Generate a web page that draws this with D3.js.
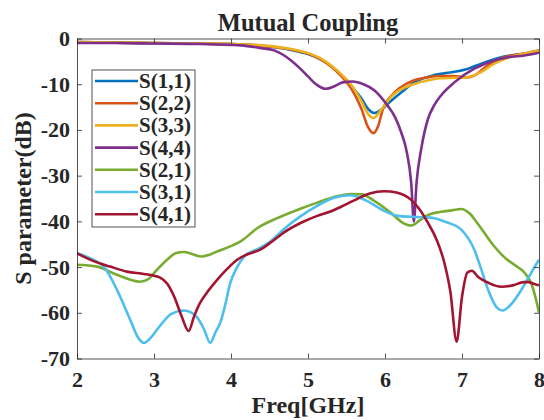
<!DOCTYPE html>
<html>
<head>
<meta charset="utf-8">
<script src="https://cdn.jsdelivr.net/npm/d3@7"></script>
<style>
  body { margin: 0; background: #fff; }
  svg text { font-family: "Liberation Serif", "Times New Roman", serif; font-weight: bold; fill: #262626; }
</style>
</head>
<body>
<div id="chart"></div>
<script>
// data: [freq GHz, dB]
const s11 = [[2,-0.8],[2.5,-0.9],[3,-1.0],[3.5,-1.1],[4,-1.2],[4.4,-1.6],[4.78,-2.5],[5.0,-3.4],[5.17,-4.6],[5.3,-6.0],[5.43,-8.0],[5.56,-10.4],[5.69,-13],[5.78,-15.4],[5.86,-16.3],[5.95,-15.6],[6.04,-14.2],[6.21,-11.8],[6.38,-9.6],[6.64,-8.0],[6.82,-7.5],[7.08,-6.6],[7.25,-5.5],[7.51,-4.1],[7.81,-3.3],[8,-2.8]];
const s22 = [[2,-0.8],[2.5,-0.9],[3,-1.0],[3.5,-1.1],[4,-1.2],[4.4,-1.6],[4.78,-2.4],[5.0,-3.3],[5.17,-4.6],[5.3,-6.1],[5.43,-8.2],[5.56,-10.9],[5.69,-15.2],[5.78,-19.4],[5.85,-20.7],[5.91,-19.2],[5.97,-15.6],[6.1,-12.2],[6.21,-10.6],[6.37,-9.2],[6.55,-8.5],[6.72,-8.2],[6.9,-8.2],[7.07,-8.5],[7.16,-8.1],[7.33,-5.9],[7.51,-4.3],[7.81,-3.3],[8,-2.6]];
const s33 = [[2,-0.8],[2.5,-0.9],[3,-1.0],[3.5,-1.1],[4,-1.2],[4.4,-1.5],[4.78,-2.3],[5.0,-3.2],[5.17,-4.4],[5.3,-5.9],[5.43,-7.8],[5.56,-10.1],[5.69,-13.6],[5.78,-16.5],[5.85,-17.4],[5.95,-15.6],[6.1,-12.4],[6.21,-11.1],[6.37,-10.0],[6.55,-9.2],[6.72,-8.7],[6.9,-8.6],[7.07,-8.5],[7.24,-7.4],[7.42,-5.5],[7.6,-4.2],[7.81,-3.3],[8,-2.7]];
const s44 = [[2,-1.0],[2.5,-1.0],[3,-1.1],[3.6,-1.2],[4.0,-1.4],[4.13,-1.5],[4.39,-2.1],[4.56,-2.6],[4.67,-3.5],[4.78,-4.8],[4.9,-6.6],[5.0,-8.3],[5.12,-10.2],[5.23,-11.0],[5.35,-10.4],[5.45,-9.6],[5.58,-9.4],[5.72,-10.0],[5.86,-11.3],[6.03,-14.6],[6.13,-17.2],[6.21,-20.5],[6.28,-24.6],[6.34,-31.5],[6.375,-40.0],[6.41,-31.5],[6.47,-24.2],[6.56,-17.5],[6.64,-14.6],[6.73,-12.4],[6.9,-9.6],[7.16,-6.6],[7.42,-4.8],[7.6,-4.1],[7.81,-3.7],[8,-3.1]];
const s21 = [[2,-49.5],[2.26,-49.9],[2.52,-51.7],[2.82,-53.2],[2.93,-52.6],[3.0,-51.3],[3.17,-48.4],[3.28,-47.0],[3.39,-46.7],[3.5,-47.2],[3.62,-47.7],[3.72,-47.3],[3.82,-46.6],[4.04,-45.1],[4.14,-44.2],[4.34,-41.5],[4.6,-39.3],[4.91,-37.2],[5.12,-35.9],[5.35,-34.6],[5.56,-34.0],[5.7,-34.1],[5.85,-35.4],[6.08,-38.2],[6.22,-40.2],[6.34,-40.9],[6.45,-39.8],[6.56,-38.6],[6.73,-37.9],[6.87,-37.6],[6.99,-37.3],[7.1,-38.3],[7.2,-40.4],[7.42,-45.5],[7.58,-48.3],[7.68,-49.5],[7.81,-51.2],[7.9,-53.6],[7.96,-57.0],[8,-60.0]];
const s31 = [[2,-47.0],[2.2,-48.3],[2.35,-49.9],[2.52,-55.0],[2.69,-61.5],[2.8,-65.6],[2.87,-66.6],[2.95,-65.6],[3.08,-62.8],[3.22,-60.3],[3.39,-59.5],[3.48,-59.9],[3.56,-61.0],[3.65,-63.6],[3.73,-66.6],[3.8,-64.2],[3.86,-62.2],[3.92,-58.6],[3.99,-53.5],[4.08,-50.0],[4.17,-47.7],[4.35,-46.0],[4.51,-44.4],[4.7,-41.5],[4.91,-38.8],[5.12,-36.6],[5.35,-34.8],[5.56,-34.3],[5.75,-35.4],[5.99,-37.7],[6.17,-38.8],[6.34,-39.0],[6.5,-39.1],[6.64,-39.3],[6.8,-40.2],[6.99,-41.8],[7.16,-46.2],[7.25,-50.5],[7.34,-55.0],[7.45,-58.8],[7.53,-59.5],[7.63,-58.3],[7.77,-55.0],[7.9,-51.2],[8,-48.4]];
const s41 = [[2,-47.0],[2.2,-48.6],[2.43,-49.9],[2.65,-51.0],[2.87,-51.5],[3.0,-51.9],[3.08,-52.3],[3.17,-53.6],[3.26,-56.4],[3.36,-60.8],[3.45,-64.0],[3.52,-60.8],[3.6,-57.8],[3.7,-55.3],[3.82,-52.8],[3.95,-50.4],[4.08,-48.4],[4.2,-47.3],[4.38,-46.2],[4.55,-44.2],[4.69,-42.4],[4.91,-40.3],[5.12,-38.8],[5.3,-37.8],[5.43,-36.8],[5.6,-35.4],[5.8,-33.9],[5.99,-33.4],[6.15,-33.7],[6.34,-35.3],[6.45,-37.4],[6.56,-40.4],[6.67,-44.0],[6.77,-49.0],[6.85,-55.5],[6.93,-66.3],[7.0,-56.5],[7.07,-51.2],[7.13,-50.8],[7.2,-52.0],[7.35,-53.5],[7.51,-54.3],[7.66,-54.0],[7.8,-53.3],[7.86,-53.3],[7.94,-53.7],[8,-54.0]];

const names = ["S(1,1)", "S(2,2)", "S(3,3)", "S(4,4)", "S(2,1)", "S(3,1)", "S(4,1)"];
const seriesData = [s11, s22, s33, s44, s21, s31, s41];
const colors = ["#0072BD", "#D95319", "#EDB120", "#7E2F8E", "#77AC30", "#4DBEEE", "#A2142F"];
const xTicks = [2, 3, 4, 5, 6, 7, 8];
const yTicks = [0, -10, -20, -30, -40, -50, -60, -70];

const width = 544, height = 420;
const margin = {left: 77, right: 5, top: 38.5, bottom: 61.5};
const innerW = width - margin.left - margin.right;
const innerH = height - margin.top - margin.bottom;
const axisColor = "#262626";

const svg = d3.select("#chart").append("svg")
  .attr("width", width)
  .attr("height", height);

const x = d3.scaleLinear().domain([2, 8]).range([0, innerW]);
const y = d3.scaleLinear().domain([-70, 0]).range([innerH, 0]);

const g = svg.append("g")
  .attr("transform", "translate(" + margin.left + "," + margin.top + ")");

g.append("clipPath").attr("id", "clip")
  .append("rect").attr("width", innerW).attr("height", innerH);

// curves
const line = d3.line()
  .x(d => x(d[0]))
  .y(d => y(d[1]))
  .curve(d3.curveMonotoneX);

g.append("g").attr("clip-path", "url(#clip)")
  .selectAll("path")
  .data(seriesData)
  .enter().append("path")
  .attr("d", line)
  .attr("fill", "none")
  .attr("stroke", (d, i) => colors[i])
  .attr("stroke-width", 2.6)
  .attr("stroke-linejoin", "round");

// axes (ticks inside, box on)
const fmt = d => String(d);
const styleAxis = (sel) => {
  sel.select(".domain").attr("stroke", axisColor).attr("stroke-width", 0.8);
  sel.selectAll(".tick line").attr("stroke", axisColor).attr("stroke-width", 0.8);
  sel.selectAll(".tick text").style("font-size", "22px").attr("fill", axisColor);
};

g.append("g")
  .attr("transform", "translate(0," + innerH + ")")
  .call(d3.axisBottom(x).tickValues(xTicks).tickFormat(fmt).tickSizeInner(-5).tickSizeOuter(0).tickPadding(13))
  .call(styleAxis);

g.append("g")
  .call(d3.axisTop(x).tickValues(xTicks).tickFormat("").tickSizeInner(-5).tickSizeOuter(0))
  .call(styleAxis);

g.append("g")
  .call(d3.axisLeft(y).tickValues(yTicks).tickFormat(fmt).tickSizeInner(-5).tickSizeOuter(0).tickPadding(7))
  .call(styleAxis);

g.append("g")
  .attr("transform", "translate(" + innerW + ",0)")
  .call(d3.axisRight(y).tickValues(yTicks).tickFormat("").tickSizeInner(-5).tickSizeOuter(0))
  .call(styleAxis);

// title and labels
svg.append("text")
  .attr("x", margin.left + innerW / 2)
  .attr("y", 31)
  .attr("text-anchor", "middle")
  .style("font-size", "24.5px")
  .text("Mutual Coupling");

svg.append("text")
  .attr("x", margin.left + innerW / 2)
  .attr("y", 413)
  .attr("text-anchor", "middle")
  .style("font-size", "24px")
  .text("Freq[GHz]");

svg.append("text")
  .attr("transform", "translate(31," + (margin.top + innerH / 2) + ") rotate(-90)")
  .attr("text-anchor", "middle")
  .style("font-size", "24px")
  .text("S parameter(dB)");

// legend
const legend = svg.append("g").attr("transform", "translate(92,70)");
legend.append("rect")
  .attr("width", 103)
  .attr("height", 157)
  .attr("fill", "#fff")
  .attr("stroke", axisColor)
  .attr("stroke-width", 0.8);

const items = legend.selectAll(".item")
  .data(names)
  .enter().append("g")
  .attr("class", "item")
  .attr("transform", (d, i) => "translate(0," + (11 + i * 22.2) + ")");

items.append("line")
  .attr("x1", 3).attr("x2", 46)
  .attr("stroke", (d, i) => colors[i])
  .attr("stroke-width", 2.6);

items.append("text")
  .attr("x", 47)
  .attr("dy", "0.33em")
  .style("font-size", "21px")
  .text(d => d);
</script>
</body>
</html>
